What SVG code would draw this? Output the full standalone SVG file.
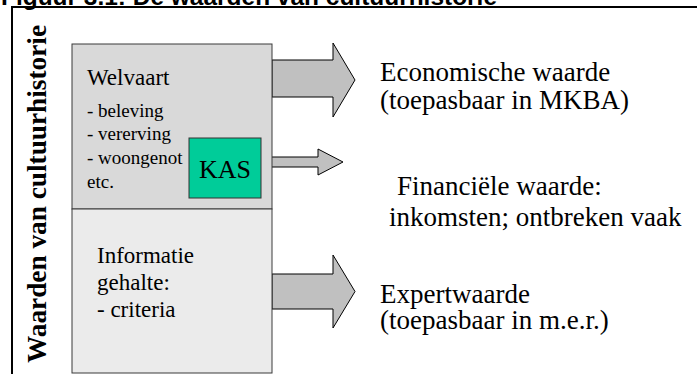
<svg xmlns="http://www.w3.org/2000/svg" width="697" height="374" viewBox="0 0 697 374">
<style>
.serif{font-family:"Liberation Serif","Times New Roman",serif;fill:#000}
.box{stroke:#3a3a3a;stroke-width:1}
.arrow{fill:#c0c0c0;stroke:#000;stroke-width:1;stroke-linejoin:miter}
</style>
<rect width="697" height="374" fill="#fff"/>
<g id="title">
<text x="1" y="4.5" font-family="Liberation Sans, Arial, sans-serif" font-weight="bold" font-size="24" textLength="496" lengthAdjust="spacingAndGlyphs">Figuur 3.1: De waarden van cultuurhistorie</text>
</g>
<g id="frame">
<line x1="11" y1="7" x2="697" y2="7" stroke="#000" stroke-width="2"/>
<line x1="12" y1="6" x2="12" y2="374" stroke="#000" stroke-width="2"/>
</g>
<g id="side-label">
<text class="serif" font-weight="bold" font-size="27" transform="translate(46,363) rotate(-90)" textLength="338" lengthAdjust="spacingAndGlyphs">Waarden van cultuurhistorie</text>
</g>
<g id="connectors">
<polygon class="arrow" points="272,60 333,60 333,43 355,80 333,117 333,97 272,97"/>
<polygon class="arrow" points="261,157 318,157 318,149 343,162 318,175 318,167 261,167"/>
<polygon class="arrow" points="272,274 333,274 333,255 355,291.5 333,328 333,309 272,309"/>
</g>
<g id="welvaart">
<rect class="box" x="72" y="44" width="200" height="165" fill="#d9d9d9"/>
<text class="serif" x="87" y="85" font-size="23">Welvaart</text>
<text class="serif" x="87" y="117" font-size="19">- beleving</text>
<text class="serif" x="87" y="140" font-size="19">- vererving</text>
<text class="serif" x="87" y="164" font-size="19">- woongenot</text>
<text class="serif" x="87" y="187.5" font-size="19">etc.</text>
</g>
<g id="kas">
<rect x="189" y="138" width="72" height="60" fill="#00cc99" stroke="#333" stroke-width="1"/>
<text class="serif" x="225" y="178" font-size="26" text-anchor="middle">KAS</text>
</g>
<g id="informatie">
<rect class="box" x="72" y="209" width="200" height="164" fill="#ebebeb"/>
<text class="serif" x="97" y="263" font-size="23">Informatie</text>
<text class="serif" x="97" y="289.5" font-size="23">gehalte:</text>
<text class="serif" x="97" y="316.5" font-size="23">- criteria</text>
</g>
<g id="economische">
<text class="serif" x="380" y="81" font-size="27">Economische waarde</text>
<text class="serif" x="380" y="109" font-size="27">(toepasbaar in MKBA)</text>
</g>
<g id="financiele">
<text class="serif" x="397" y="195" font-size="27">Financiële waarde:</text>
<text class="serif" x="389" y="226" font-size="27">inkomsten; ontbreken vaak</text>
</g>
<g id="expert">
<text class="serif" x="380" y="303" font-size="27">Expertwaarde</text>
<text class="serif" x="380" y="329" font-size="27">(toepasbaar in m.e.r.)</text>
</g>
</svg>
